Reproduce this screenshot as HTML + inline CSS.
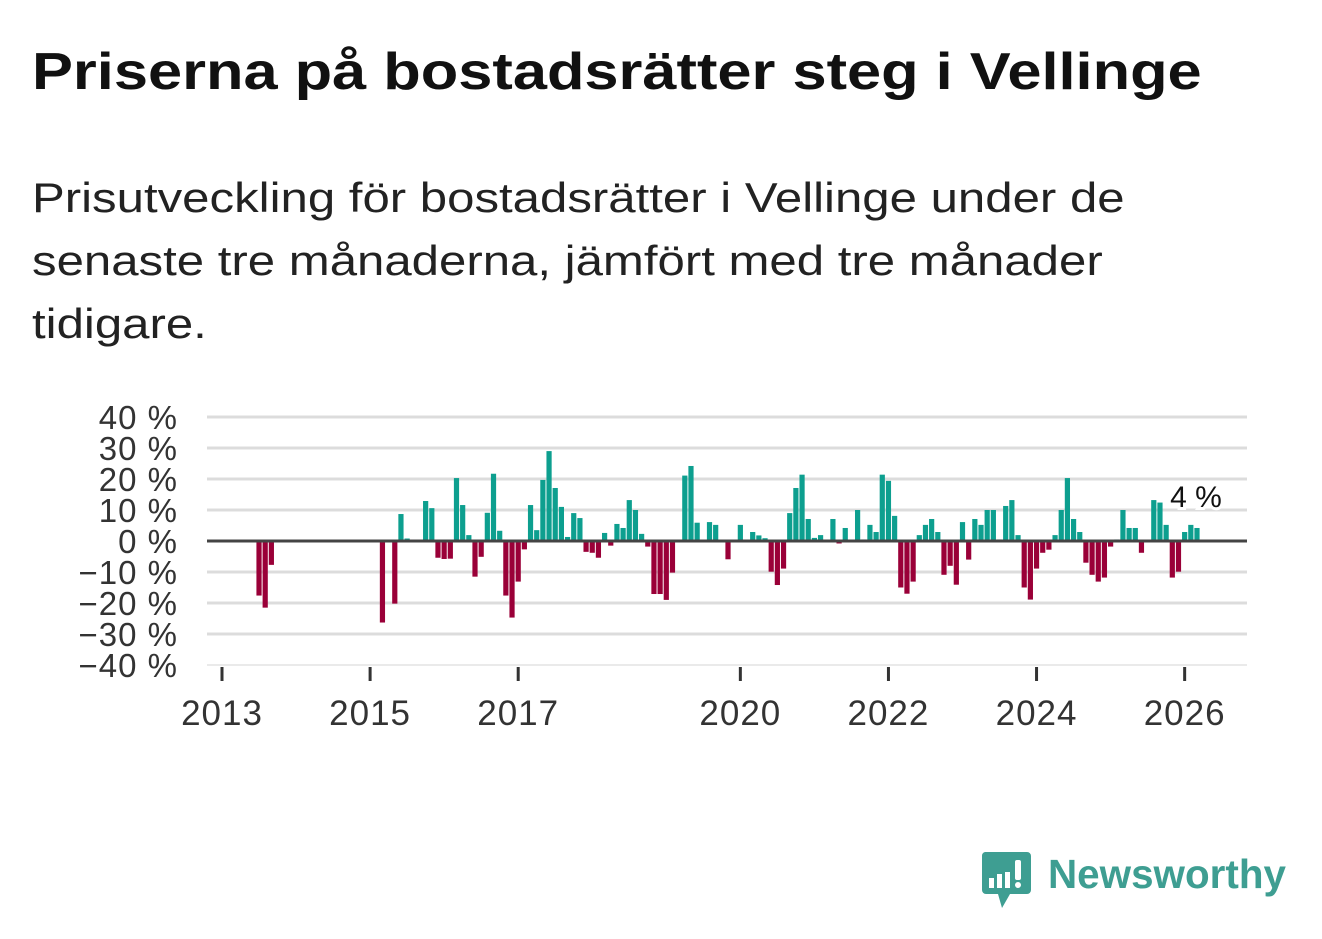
<!DOCTYPE html>
<html><head><meta charset="utf-8">
<style>
body{margin:0;background:#fff;width:1322px;height:939px;overflow:hidden;font-family:"Liberation Sans","DejaVu Sans",sans-serif;}
h1{position:absolute;left:32px;top:42px;margin:0;font-size:52px;font-weight:bold;color:#111;transform:scaleX(1.18);transform-origin:0 0;white-space:nowrap}
p{position:absolute;left:32px;top:166px;margin:0;font-size:42px;line-height:63px;color:#222;width:1000px;transform:scaleX(1.17);transform-origin:0 0;white-space:nowrap}
#logo{position:absolute;left:980px;top:850px}
</style></head><body>
<h1>Priserna på bostadsrätter steg i Vellinge</h1>
<p>Prisutveckling för bostadsrätter i Vellinge under de<br>senaste tre månaderna, jämfört med tre månader<br>tidigare.</p>
<svg id="chart" width="1322" height="939" style="position:absolute;left:0;top:0"></svg>
<svg id="logo" width="320" height="62">
<path d="M3 2h44a4 4 0 0 1 4 4v34a4 4 0 0 1-4 4H30l-8 14-4-14H6a4 4 0 0 1-4-4V6a4 4 0 0 1 3-4z" fill="#3e9e92"/>
<rect x="9" y="28" width="5" height="10" fill="#fff"/><rect x="17" y="24" width="5" height="14" fill="#fff"/><rect x="25" y="22" width="5" height="16" fill="#fff"/><rect x="35" y="10" width="6" height="20" rx="2" fill="#fff"/><circle cx="38" cy="35" r="3" fill="#fff"/>
<text x="68" y="38" font-size="41" font-weight="bold" fill="#3e9e92" font-family="Liberation Sans, sans-serif" textLength="238" lengthAdjust="spacingAndGlyphs">Newsworthy</text>
</svg>
<script>
// monthly values starting Jan 2013 (index 0); null = no bar
const startYear = 2013;
const values = [null,null,null,null,null,null,-17.6,-21.5,-7.7,null,null,null,
null,null,null,null,null,null,null,null,null,null,null,null,
null,null,-26.3,null,-20.2,8.7,0.8,null,null,12.9,10.6,-5.4,
-5.8,-5.7,20.3,11.6,1.9,-11.5,-5.1,9.1,21.7,3.3,-17.6,-24.7,
-13.1,-2.7,11.6,3.5,19.7,29,17.1,11.0,1.3,9.0,7.4,-3.5,
-3.8,-5.4,2.6,-1.5,5.5,4.2,13.2,10.0,2.3,-1.8,-17.1,-17.1,
-19.0,-10.2,null,21.1,24.2,5.9,null,6.1,5.2,null,-5.9,-0.3,
5.2,null,2.9,1.8,0.9,-9.9,-14.2,-8.9,9.0,17.1,21.4,7.1,
1.0,1.9,null,7.1,-0.8,4.2,null,10.0,0.5,5.2,2.9,21.4,
19.4,8.1,-15,-17,-13.1,1.9,5.2,7.1,2.9,-10.9,-8.0,-14.1,
6.1,-6.0,7.1,5.2,10.0,10.0,0.5,11.3,13.2,1.9,-15,-18.9,
-8.9,-3.8,-2.8,1.9,10.0,20.3,7.1,2.9,-7.0,-10.9,-13.1,-11.8,
-1.8,0.5,10.0,4.2,4.2,-3.8,null,13.2,12.4,5.2,-11.8,-9.9,
2.9,5.2,4.2];
const yTicks = [40,30,20,10,0,-10,-20,-30,-40];
const xTickYears = [2013,2015,2017,2020,2022,2024,2026];
const lastLabel = "4 %";

const NS="http://www.w3.org/2000/svg";
const svg=document.getElementById('chart');
const x0=222, pxMonth=74.05/12, left=207, right=1247;
const yScale=v=>541 - v*3.1;
const xScale=m=>x0 + m*pxMonth;
function mk(tag,attrs){const e=document.createElementNS(NS,tag);for(const k in attrs)e.setAttribute(k,attrs[k]);svg.appendChild(e);return e;}
yTicks.forEach(t=>{
  const g=mk('line',{x1:left,x2:right,y1:yScale(t),y2:yScale(t),stroke:t===-40?'#e4e4e4':'#dcdcdc','stroke-width':t===-40?1.5:3});
  
  
  const lb=mk('text',{x:178,y:yScale(t)+12,'text-anchor':'end','font-size':33,fill:'#333','letter-spacing':'1'});
  lb.textContent=(t<0?'\u2212'+(-t):t)+' %';
  
  
});
values.forEach((v,i)=>{
  if(v===null)return;
  const cx=xScale(i);
  const r=mk('rect',{x:cx-2.6,width:5.2,y:v>=0?yScale(v):yScale(0),height:Math.abs(yScale(v)-yScale(0)),fill:v>=0?'#0d9f8f':'#9a0038'});
  
  
});
const z=mk('line',{x1:left,x2:right,y1:yScale(0),y2:yScale(0),stroke:'#444','stroke-width':3});


xTickYears.forEach(yr=>{
  const x=xScale((yr-startYear)*12);
  const t=mk('line',{x1:x,x2:x,y1:667,y2:681,stroke:'#333','stroke-width':3});
  
  
  const lb=mk('text',{x:x,y:725,'text-anchor':'middle','font-size':35,fill:'#333','letter-spacing':'1'});
  lb.textContent=yr;
  
  
});
const li=values.length-1;
const ll=mk('text',{x:xScale(li)-1,y:507,'text-anchor':'middle','font-size':30,fill:'#111',stroke:'#fff','stroke-width':6,'paint-order':'stroke'});
ll.textContent=lastLabel;


</script>
</body></html>
